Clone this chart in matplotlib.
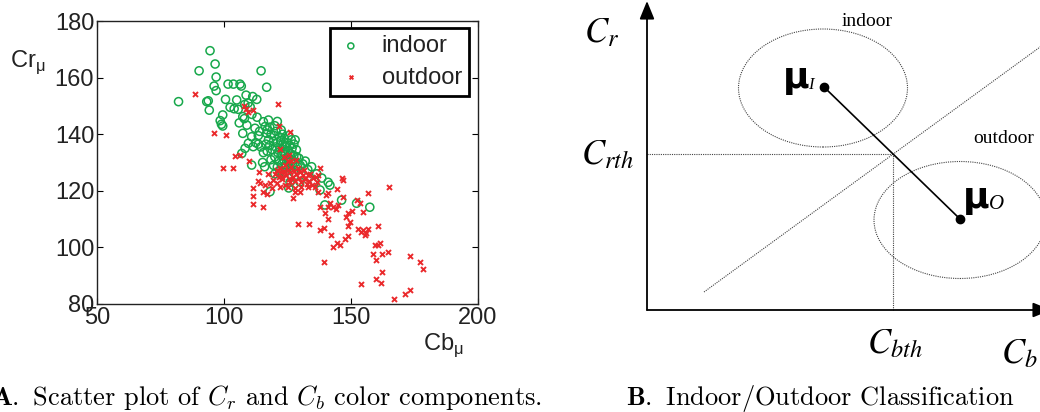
import numpy as np
import matplotlib
matplotlib.use("Agg")
import matplotlib.pyplot as plt
from matplotlib.patches import Ellipse

# ---- scatter data (Cb_mu, Cr_mu) ----
indoor_cb = [82.1, 94.5, 96.5, 90.2, 96.9, 96.1, 96.9, 93.2, 93.8, 94.2, 100.6, 99.5, 98.5, 99.5, 99.0,
             101.6, 103.7, 106.3, 106.8, 102.4, 104.0, 105.0, 105.6, 108.7, 108.2, 109.5, 111.3, 112.9,
             114.6, 116.8, 107.4, 109.0, 107.4, 110.9, 112.2, 109.6, 108.3, 107.0, 110.9, 111.5, 112.5,
             113.5, 115.5, 116.2, 116.8, 115.2, 118.1, 110.3, 111.0, 106.0, 108.0, 113.0, 114.0, 117.5,
             126.0, 129.9, 134.5, 133.0, 137.8, 141.0, 141.7, 139.7, 146.3, 152.2, 157.4, 135.7, 128.6,
             131.0, 132.0, 125.5, 120.0, 124.0, 138.5, 136.5,
             117.5, 118.0, 118.5, 119.0, 119.5, 119.8, 120.0, 120.3, 120.5, 121.0, 121.2, 121.5, 121.8,
             122.0, 122.3, 122.5, 122.8, 123.0, 123.2, 123.5, 123.8, 124.0, 124.2, 124.5, 124.8, 125.0,
             125.2, 125.5, 125.8, 126.0, 126.3, 126.5, 126.8, 127.0, 127.5, 128.0, 128.5, 129.0, 129.5,
             130.0, 118.5, 119.5, 117.0, 116.5, 117.0, 118.0, 120.0, 121.0, 122.5, 123.0, 125.5, 126.5,
             127.5, 128.0, 122.0, 121.0, 124.0, 127.5, 115.5, 114.5, 113.5, 116.0]
indoor_cr = [151.5, 169.5, 164.8, 162.4, 160.2, 157.0, 155.4, 151.5, 151.8, 148.5, 152.3, 146.8, 144.8, 142.9, 143.5,
             157.7, 157.7, 157.7, 157.0, 149.5, 149.0, 152.1, 148.8, 153.8, 150.5, 151.0, 153.3, 152.3,
             162.4, 156.6, 146.2, 143.2, 140.3, 139.1, 142.1, 136.8, 135.0, 133.2, 129.1, 135.6, 137.0,
             139.5, 144.4, 142.7, 140.3, 130.0, 119.7, 149.7, 147.0, 144.0, 145.5, 146.0, 141.0, 145.0,
             123.0, 123.2, 128.5, 127.5, 120.3, 123.0, 122.0, 115.0, 116.7, 115.6, 114.2, 123.2, 132.0,
             129.5, 130.5, 121.0, 126.0, 128.0, 124.5, 126.0,
             138.0, 136.0, 140.0, 134.5, 137.5, 139.5, 132.0, 135.5, 141.0, 137.0, 133.5, 130.5, 139.0,
             135.0, 137.8, 132.5, 129.5, 134.0, 136.5, 131.0, 138.5, 133.0, 135.5, 129.0, 137.0, 132.0,
             134.0, 130.0, 136.0, 128.0, 133.0, 131.0, 135.0, 129.5, 132.5, 130.0, 134.5, 128.5, 131.5,
             129.0, 131.0, 129.0, 134.0, 136.5, 141.5, 142.5, 143.0, 144.5, 141.5, 140.0, 139.5, 138.0,
             136.5, 138.0, 127.0, 128.5, 126.5, 126.5, 133.5, 135.5, 136.5, 128.5]

outdoor_cb = [88.4, 96.2, 100.8, 99.5, 103.7, 104.2, 106.3, 110.0, 108.0, 108.5, 109.5, 111.5, 121.1, 126.0,
              121.8, 122.0, 123.5, 125.0, 113.8, 114.2, 113.5, 111.5, 111.3, 111.3, 115.5, 115.5, 129.3,
              133.6, 137.8, 139.4, 142.2, 143.0, 144.3, 145.6, 147.6, 148.9, 139.4, 154.1, 158.7, 159.7,
              159.3, 161.3, 160.5, 162.3, 164.6, 160.0, 162.0, 162.2, 153.9, 154.8, 155.5, 156.8, 155.8,
              160.8, 156.8, 165.0, 152.6, 173.4, 177.0, 178.4, 173.4, 171.4, 166.9, 148.9, 149.6, 148.2,
              149.0, 150.3, 153.6, 154.7, 152.2, 146.9, 143.0, 141.0, 145.0, 141.7, 144.0, 139.7, 141.0,
              137.8, 137.1, 141.0, 140.0, 144.3, 146.3, 147.0, 133.0, 130.4, 127.8, 127.0, 125.0, 123.0,
              119.4, 118.1, 120.7, 136.4, 137.8,
              120.0, 121.0, 121.5, 122.0, 122.5, 123.0, 123.5, 124.0, 124.5, 125.0, 125.5, 126.0, 126.5,
              127.0, 127.5, 128.0, 128.5, 129.0, 129.5, 130.0, 130.5, 131.0, 131.5, 132.0, 132.5, 133.0,
              133.5, 134.0, 134.5, 135.0, 136.0, 136.5, 137.0, 128.0, 126.0, 124.0, 122.0, 130.0, 119.0,
              116.0, 117.0, 117.5, 126.5, 125.5, 128.5]
outdoor_cr = [154.2, 140.5, 139.8, 128.2, 128.2, 132.3, 132.6, 130.4, 150.0, 149.0, 148.0, 148.5, 150.7, 140.8,
              142.9, 134.8, 132.0, 130.5, 126.8, 122.9, 123.5, 120.9, 118.2, 115.3, 114.4, 119.7, 108.3,
              108.3, 106.1, 106.7, 104.3, 100.0, 101.6, 101.0, 103.0, 103.9, 95.0, 87.0, 97.7, 95.6,
              100.8, 101.6, 101.0, 97.7, 98.5, 89.0, 87.5, 91.4, 105.6, 106.2, 104.4, 106.4, 105.0,
              107.6, 119.3, 121.2, 106.4, 97.0, 95.0, 92.2, 85.0, 83.5, 81.6, 112.0, 109.0, 110.6,
              107.5, 113.0, 115.6, 112.6, 116.7, 117.9, 114.4, 114.4, 115.0, 115.8, 113.5, 112.0, 109.9,
              114.4, 119.7, 119.1, 118.5, 120.5, 124.4, 123.8, 121.5, 121.5, 119.7, 117.3, 121.5, 125.0,
              123.8, 122.9, 122.6, 125.0, 128.0,
              126.0, 127.5, 125.0, 128.0, 126.5, 124.0, 127.0, 129.0, 125.5, 127.5, 124.0, 126.5, 128.5,
              125.0, 127.0, 123.5, 126.0, 128.0, 124.5, 126.5, 123.0, 125.5, 127.5, 124.0, 122.5, 125.5,
              123.5, 126.0, 122.0, 124.5, 121.5, 123.0, 125.5, 121.0, 123.0, 122.0, 121.5, 119.5, 121.0,
              122.0, 119.0, 126.0, 130.5, 132.5, 131.0]

x_ticks = [50, 100, 150, 200]
y_ticks = [80, 100, 120, 140, 160, 180]

# ---- schematic (right panel), in pixel-like units from the origin ----
mu_indoor = (177, 223)
mu_outdoor = (313, 91)
cb_th, cr_th = 246, 156
ell_indoor = (176, 222, 169, 118)    # cx, cy, w, h
ell_outdoor = (313, 90, 172, 117)
boundary = ([57, 400], [18, 18 + 0.729 * 343])

green = "#17a84b"
red = "#ea2a2c"
sans = "Liberation Sans"

fig = plt.figure(figsize=(10.4, 4.12), dpi=100)

# ---------------- panel A ----------------
ax = fig.add_axes([97 / 1040, 108 / 412, 381 / 1040, 283 / 412])
ax.scatter(indoor_cb, indoor_cr, s=34, facecolors="none", edgecolors=green, linewidths=1.1, label="indoor", zorder=2)
ax.scatter(outdoor_cb, outdoor_cr, s=13, marker="x", color=red, linewidths=1.4, label="outdoor", zorder=3)
ax.set_xlim(50, 200)
ax.set_ylim(80, 180)
ax.set_xticks(x_ticks)
ax.set_yticks(y_ticks)
ax.tick_params(direction="in", length=4, width=0.8, top=True, right=True, labelsize=17,
               labelcolor="#222222", pad=2)
for lab in ax.get_xticklabels() + ax.get_yticklabels():
    lab.set_fontfamily(sans)
for sp in ax.spines.values():
    sp.set_linewidth(1.0)
    sp.set_color("#222222")
leg = ax.legend(loc="upper right", bbox_to_anchor=(0.976, 0.975), borderaxespad=0, fancybox=False,
                prop={"family": sans, "size": 17}, handlelength=1.2, handletextpad=0.7, borderpad=0.3,
                labelspacing=0.4, markerscale=0.75, framealpha=1)
leg.get_frame().set_edgecolor("black")
leg.get_frame().set_linewidth(2.0)
for t in leg.get_texts():
    t.set_color("#222222")

fig.text(10 / 1040, 1 - 62 / 412, r"Cr$_{\mathregular{\mu}}$", family=sans, size=17, color="#222222",
         ha="left", va="center", math_fontfamily="dejavusans")
fig.text(423 / 1040, 1 - 345 / 412, r"Cb$_{\mathregular{\mu}}$", family=sans, size=17, color="#222222",
         ha="left", va="center", math_fontfamily="dejavusans")

fig.text(267 / 1040, 1 - 398 / 412, r"$\mathbf{A.}$ Scatter plot of $C_r$ and $C_b$ color components.",
         family="cmr10", size=19, ha="center", va="center", math_fontfamily="cm")

# ---------------- panel B ----------------
bx = fig.add_axes([0.5, 0, 0.5, 1])
bx.set_xlim(-127, 393)
bx.set_ylim(-102, 310)
bx.axis("off")

arrow = dict(arrowstyle="-|>,head_length=1.1,head_width=0.45", color="black", lw=1.3, shrinkA=0, shrinkB=0)
bx.annotate("", xy=(0, 309), xytext=(0, 0), arrowprops=arrow)
bx.annotate("", xy=(404, 0), xytext=(0, 0), annotation_clip=False, arrowprops=arrow)

for cx, cy, w, h in (ell_indoor, ell_outdoor):
    bx.add_patch(Ellipse((cx, cy), w, h, fill=False, ls=(0, (1, 1)), lw=0.8, color="#444444", clip_on=False))

bx.plot(boundary[0], boundary[1], ls=(0, (1, 1)), lw=0.8, color="#444444", clip_on=True)
bx.plot([0, cb_th], [cr_th, cr_th], ls=(0, (1, 1)), lw=0.8, color="#444444")
bx.plot([cb_th, cb_th], [0, cr_th], ls=(0, (1, 1)), lw=0.8, color="#444444")

bx.plot([mu_indoor[0], mu_outdoor[0]], [mu_indoor[1], mu_outdoor[1]], color="black", lw=1.2)
bx.plot([mu_indoor[0], mu_outdoor[0]], [mu_indoor[1], mu_outdoor[1]], "o", color="black", ms=6)

bx.text(149, 232, "μ", family="DejaVu Sans", weight="bold", size=26, ha="center", va="center")
bx.text(161, 225, "I", family="Liberation Serif", style="italic", size=12, ha="left", va="center")
bx.text(329, 112, "μ", family="DejaVu Sans", weight="bold", size=26, ha="center", va="center")
bx.text(342, 106, "O", family="Liberation Serif", style="italic", size=15, ha="left", va="center")

bx.text(220, 289, "indoor", family="Liberation Serif", size=14, ha="center", va="center")
bx.text(326, 172, "outdoor", family="Liberation Serif", size=14, ha="left", va="center", clip_on=False)

bx.text(-45, 278, r"$C_r$", size=25, ha="center", va="center", math_fontfamily="stix")
bx.text(-40, 156, r"$C_{rth}$", size=25, ha="center", va="center", math_fontfamily="stix")
bx.text(248, -33, r"$C_{bth}$", size=25, ha="center", va="center", math_fontfamily="stix")
bx.text(372, -43, r"$C_b$", size=25, ha="center", va="center", math_fontfamily="stix")

fig.text(820 / 1040, 1 - 398 / 412, r"$\mathbf{B.}$ Indoor/Outdoor Classification",
         family="cmr10", size=19, ha="center", va="center", math_fontfamily="cm")

fig.savefig("out.png", dpi=100)
